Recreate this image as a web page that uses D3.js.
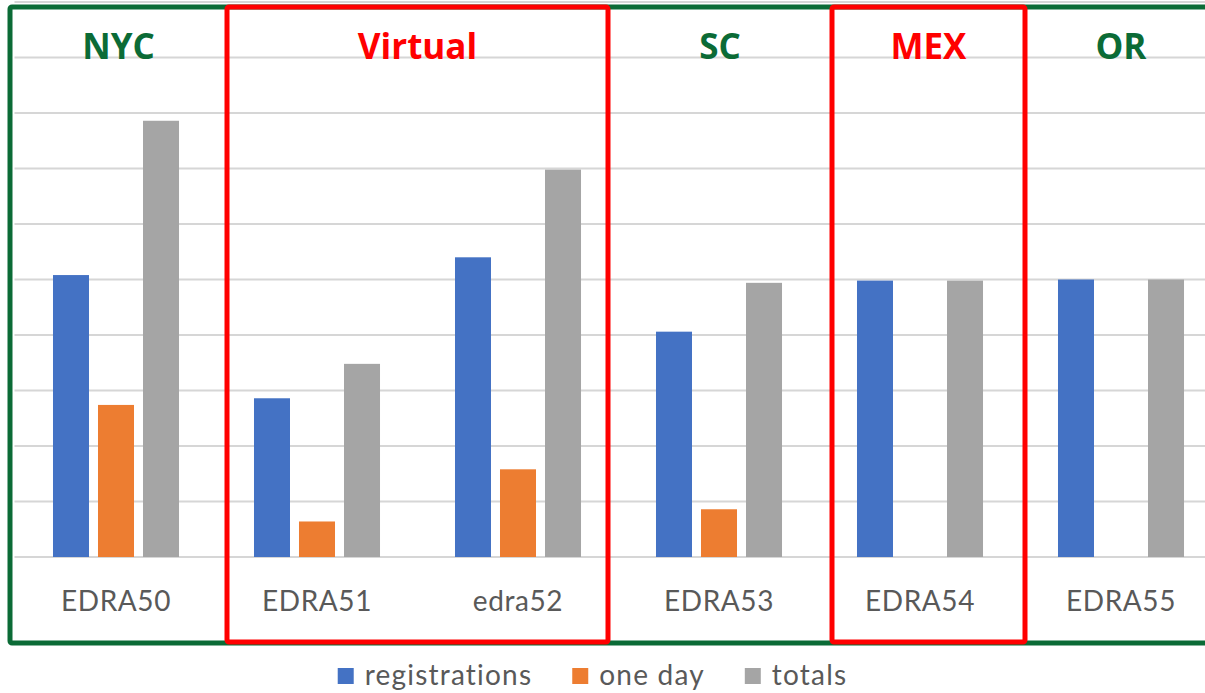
<!DOCTYPE html>
<html>
<head>
<meta charset="utf-8">
<script src="https://cdn.jsdelivr.net/npm/d3@7"></script>
<style>
  html, body { margin: 0; padding: 0; background: #fff; }
  svg { display: block; }
</style>
</head>
<body>
<svg id="Chart"></svg>
<script>
// data
const categories = ['EDRA50', 'EDRA51', 'edra52', 'EDRA53', 'EDRA54', 'EDRA55'];
const seriesNames = ['registrations', 'one day', 'totals'];
const registrations = [254, 143, 270, 203, 249, 250];
const oneDay = [137, 32, 79, 43, 0, 0];
const totals = [393, 174, 349, 247, 249, 250];
const yTicks = [0, 50, 100, 150, 200, 250, 300, 350, 400, 450, 500];

// the boxed groups drawn over the chart
const groupLabels = ['NYC', 'Virtual', 'SC', 'MEX', 'OR'];
const groupColors = ['#0b6b36', '#ff0000', '#0b6b36', '#ff0000', '#0b6b36'];
const groupEdges = [10, 227, 608, 832, 1025, 1217]; // layout, px

const colors = ['#4472c4', '#ed7d31', '#a5a5a5'];
const values = [registrations, oneDay, totals];

const W = 1205, H = 693;
const margin = { left: 14.5, top: 2, bottom: 557 };

const svg = d3.select('#Chart')
  .attr('width', W)
  .attr('height', H);

const x0 = d3.scaleBand()
  .domain(categories)
  .range([margin.left, margin.left + 201 * categories.length])
  .padding(0);

const x1 = d3.scaleBand()
  .domain(seriesNames)
  .range([0, x0.bandwidth()])
  .paddingInner(0.2)
  .paddingOuter(0.833);

const y = d3.scaleLinear()
  .domain([0, 500])
  .range([margin.bottom, margin.top]);

// gridlines
svg.append('g')
  .selectAll('line')
  .data(yTicks)
  .enter().append('line')
  .attr('x1', margin.left)
  .attr('x2', W)
  .attr('y1', d => y(d))
  .attr('y2', d => y(d))
  .attr('stroke', '#d6d6d6')
  .attr('stroke-width', 1.8);

// bars
const rows = categories.map((c, i) => ({ cat: c, vals: seriesNames.map((s, j) => ({ s: s, j: j, v: values[j][i] })) }));

const grp = svg.append('g')
  .selectAll('g')
  .data(rows)
  .enter().append('g')
  .attr('transform', d => 'translate(' + (x0(d.cat) + 1) + ',0)');

grp.selectAll('rect')
  .data(d => d.vals.filter(v => v.v > 0))
  .enter().append('rect')
  .attr('x', d => x1(d.s))
  .attr('width', x1.bandwidth())
  .attr('y', d => y(d.v))
  .attr('height', d => y(0) - y(d.v))
  .style('fill', d => colors[d.j]);

// category labels
svg.append('g')
  .selectAll('text')
  .data(categories)
  .enter().append('text')
  .attr('x', d => x0(d) + x0.bandwidth() / 2 + 1)
  .attr('y', 611)
  .attr('text-anchor', 'middle')
  .style('font-family', 'Lato, sans-serif')
  .style('font-size', '28px')
  .style('letter-spacing', '0.6px')
  .style('fill', '#595959')
  .text(d => d);

// green outer frame
svg.append('rect')
  .attr('x', groupEdges[0])
  .attr('y', 7)
  .attr('width', groupEdges[groupEdges.length - 1] - groupEdges[0])
  .attr('height', 636)
  .attr('rx', 2)
  .attr('fill', 'none')
  .attr('stroke', '#0b6b36')
  .attr('stroke-width', 5);

// red boxes
groupLabels.forEach((g, i) => {
  if (groupColors[i] === '#ff0000') {
    svg.append('rect')
      .attr('x', groupEdges[i])
      .attr('y', 7)
      .attr('width', groupEdges[i + 1] - groupEdges[i])
      .attr('height', 635)
      .attr('rx', 2)
      .attr('fill', 'none')
      .attr('stroke', '#ff0000')
      .attr('stroke-width', 5);
  }
});

// group titles
svg.append('g')
  .selectAll('text')
  .data(groupLabels)
  .enter().append('text')
  .attr('x', (d, i) => (groupEdges[i] + groupEdges[i + 1]) / 2)
  .attr('y', 59)
  .attr('text-anchor', 'middle')
  .style('font-family', '"Open Sans", sans-serif')
  .style('font-weight', 'bold')
  .style('font-size', '35px')
  .style('fill', (d, i) => groupColors[i])
  .text(d => d);

// legend
const legend = svg.append('g');
let lx = 0;
seriesNames.forEach((s, i) => {
  const item = legend.append('g').attr('transform', 'translate(' + lx + ',0)');
  item.append('rect')
    .attr('x', 0)
    .attr('y', -17)
    .attr('width', 16)
    .attr('height', 16)
    .style('fill', colors[i]);
  const t = item.append('text')
    .attr('x', 27)
    .attr('y', 0)
    .style('font-family', 'Lato, sans-serif')
    .style('font-size', '28px')
    .style('letter-spacing', '1.2px')
    .style('fill', '#595959')
    .text(s);
  lx += 27 + t.node().getComputedTextLength() + 40;
});
const legendW = lx - 40;
legend.attr('transform', 'translate(' + (592.5 - legendW / 2) + ',685)');
</script>
</body>
</html>
